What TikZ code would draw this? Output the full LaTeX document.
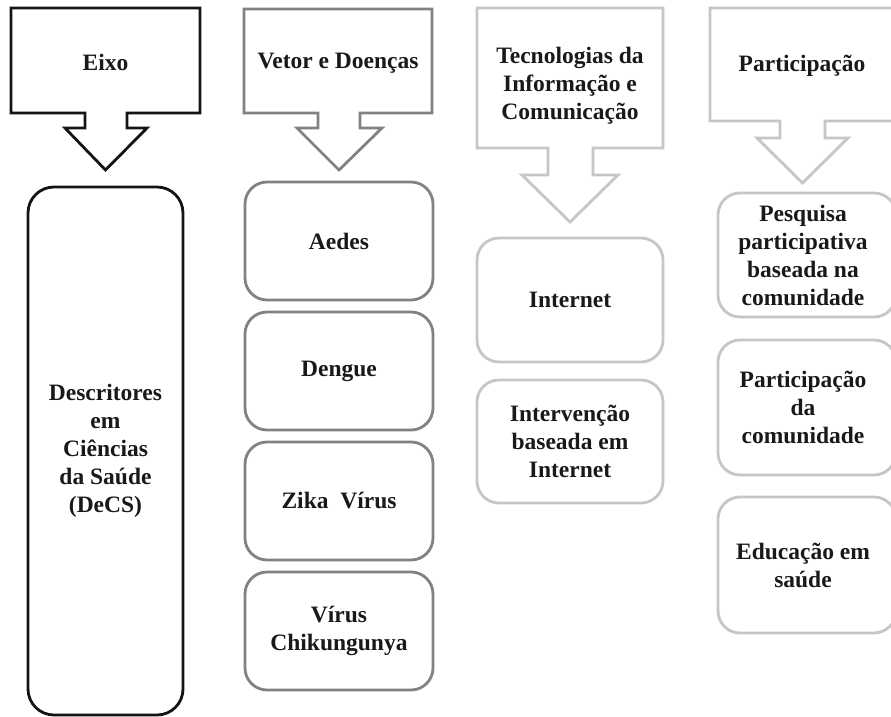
\documentclass[tikz,border=0pt]{standalone}
\usepackage{fontspec}
\setmainfont{Liberation Serif}
\definecolor{colA}{RGB}{20,20,20}
\definecolor{colB}{RGB}{130,130,130}
\definecolor{colC}{RGB}{198,198,198}
\begin{document}
\begin{tikzpicture}[x=1pt,y=-1pt,
  lbl/.style={font=\bfseries\fontsize{23.5}{28}\selectfont, align=center, text=black!90, inner sep=0pt},
  shp/.style={line width=2.8pt, line join=miter},
  rbox/.style={draw, shp, rounded corners=22pt, lbl}
]
\path[use as bounding box, clip] (0,0) rectangle (891,717);
\fill[white] (0,0) rectangle (891,717);

% ---- column 1 ----
\draw[shp, draw=colA] (11,8) -- (200,8) -- (200,113) -- (127,113) -- (127,128) -- (147,128)
  -- (105.5,170) -- (65,128) -- (85,128) -- (85,113) -- (11,113) -- cycle;
\node[lbl] (eixo) at (105.5,62) {Eixo};
\node[rbox, draw=colA, rounded corners=26pt, minimum width=155pt, minimum height=528pt] (decs) at (105.5,451)
  {Descritores\\em\\Ciências\\da Saúde\\(DeCS)};

% ---- column 2 ----
\draw[shp, draw=colB] (244,9) -- (432,9) -- (432,113) -- (360,113) -- (360,128) -- (382,128)
  -- (339,170) -- (297,128) -- (318,128) -- (318,113) -- (244,113) -- cycle;
\node[lbl] (vetor) at (338,63) {Vetor e Doenças};
\node[rbox, draw=colB, minimum width=188pt, minimum height=118pt] (aedes) at (339,241) {Aedes};
\node[rbox, draw=colB, minimum width=188pt, minimum height=118pt] (dengue) at (339,371) {Dengue};
\node[rbox, draw=colB, minimum width=188pt, minimum height=118pt] (zika) at (339,501) {Zika\ \ Vírus};
\node[rbox, draw=colB, minimum width=188pt, minimum height=118pt] (chik) at (339,631) {Vírus\\Chikungunya};

% ---- column 3 ----
\draw[shp, draw=colC] (477,8) -- (663,8) -- (663,148) -- (593,148) -- (593,175) -- (618,175)
  -- (570,222) -- (522,175) -- (548,175) -- (548,148) -- (477,148) -- cycle;
\node[lbl] (tic) at (570,86) {Tecnologias da\\Informação e\\Comunicação};
\node[rbox, draw=colC, minimum width=186pt, minimum height=124pt] (internet) at (570,300) {Internet};
\node[rbox, draw=colC, minimum width=186pt, minimum height=123pt] (interv) at (570,441.5)
  {Intervenção\\baseada em\\Internet};

% ---- column 4 ----
\draw[shp, draw=colC] (710,8) -- (895,8) -- (895,121) -- (825,121) -- (825,138) -- (848,138)
  -- (802.5,183) -- (757,138) -- (780,138) -- (780,121) -- (710,121) -- cycle;
\node[lbl] (part) at (802,66) {Participação};
\node[rbox, draw=colC, minimum width=178pt, minimum height=124pt] (pesq) at (807,255) {};
\node[lbl] (pesqt) at (803,255) {Pesquisa\\participativa\\baseada na\\comunidade};
\node[rbox, draw=colC, minimum width=178pt, minimum height=135pt] (partcom) at (807,407.5) {};
\node[lbl] (partcomt) at (803,407.5) {Participação\\da\\comunidade};
\node[rbox, draw=colC, minimum width=178pt, minimum height=136pt] (educ) at (807,565) {};
\node[lbl] (educt) at (803,565) {Educação em\\saúde};
\end{tikzpicture}
\end{document}
